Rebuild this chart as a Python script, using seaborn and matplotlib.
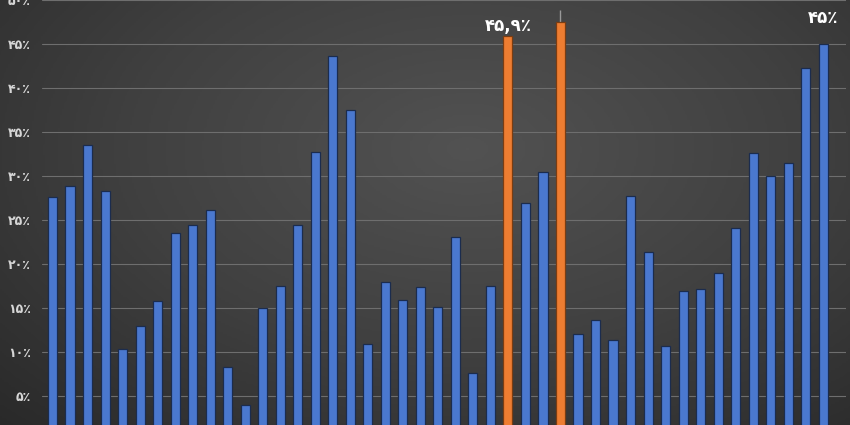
import numpy as np
import pandas as pd
import matplotlib
matplotlib.use('Agg')
import matplotlib.pyplot as plt
import seaborn as sns
from matplotlib.colors import LinearSegmentedColormap, to_hex

# bar heights in percent, left to right
values = [27.6, 28.9, 33.5, 28.3, 10.3, 13.0, 15.8, 23.5, 24.4, 26.2,
          8.3, 4.0, 15.0, 17.5, 24.5, 32.8, 43.7, 37.5, 10.9, 18.0,
          15.9, 17.4, 15.1, 23.1, 7.6, 17.5, 45.9, 26.9, 30.5, 47.6,
          12.0, 13.7, 11.4, 27.7, 21.4, 10.7, 17.0, 17.2, 19.0, 24.1,
          32.7, 30.0, 31.5, 42.3, 45.0]
groups = ['blue'] * 45
groups[26] = 'orange'
groups[29] = 'orange'
# small upward whisker seen above the second orange bar
whisker_up = {29: 1.3}
# annotated bars
labels = {26: '۴۵,۹٪', 44: '۴۵٪'}
ytick_vals = [5, 10, 15, 20, 25, 30, 35, 40, 45, 50]
ytick_labels = ['۵٪', '۱۰٪', '۱۵٪', '۲۰٪', '۲۵٪', '۳۰٪', '۳۵٪', '۴۰٪', '۴۵٪', '۵۰٪']

df = pd.DataFrame({'idx': range(len(values)), 'value': values, 'group': groups})

sns.set_style('dark')
plt.rcParams['font.family'] = ['DejaVu Sans']

fig = plt.figure(figsize=(8.5, 4.25), dpi=100)

# dark radial gradient background
bg = fig.add_axes([0, 0, 1, 1], zorder=-1)
yy, xx = np.mgrid[0:1:200j, 0:1:400j]
r = np.sqrt(((xx - 0.55) / 0.8) ** 2 + ((yy - 0.35) / 0.95) ** 2)
cmap = LinearSegmentedColormap.from_list('bg', ['#525252', '#404040', '#282828'])
bg.imshow(r, cmap=cmap, aspect='auto', extent=[0, 1, 0, 1], vmin=0, vmax=1.0)
bg.axis('off')

ax = fig.add_axes([42 / 850, 0, (846 - 42) / 850, 1])
ax.set_facecolor('none')

blue, orange = '#4a78cf', '#ee7d31'
sns.barplot(data=df, x='idx', y='value', hue='group', dodge=False, legend=False,
            palette={'blue': blue, 'orange': orange}, width=0.52,
            saturation=1, ax=ax, zorder=3)
for p in ax.patches:
    is_orange = to_hex(p.get_facecolor()) == orange
    p.set_edgecolor('#7a3d12' if is_orange else '#1b2c4e')
    p.set_linewidth(0.9)

for i, up in whisker_up.items():
    ax.vlines(i, values[i], values[i] + up, color='#9a9a9a', lw=1, zorder=2)

for i, txt in labels.items():
    off = 3.0 if i == 44 else 1.2
    ax.text(i, values[i] + off, txt, ha='center', va='center',
            color='white', fontsize=12, fontweight='bold')

ax.set_ylim(1.7, 50.05)
ax.set_xlim(-0.6, 45.3)
ax.set_yticks(ytick_vals)
ax.set_yticklabels(ytick_labels, color='#d6d6d6', fontsize=9, fontweight='bold')
ax.set_xticks([])
ax.tick_params(axis='y', length=0, pad=8)
ax.grid(axis='y', color='#6e6e6e', lw=0.8, zorder=0)
ax.set_axisbelow(True)
ax.set_xlabel('')
ax.set_ylabel('')
for s in ax.spines.values():
    s.set_visible(False)

fig.savefig('out.png', dpi=100)
plt.close(fig)
